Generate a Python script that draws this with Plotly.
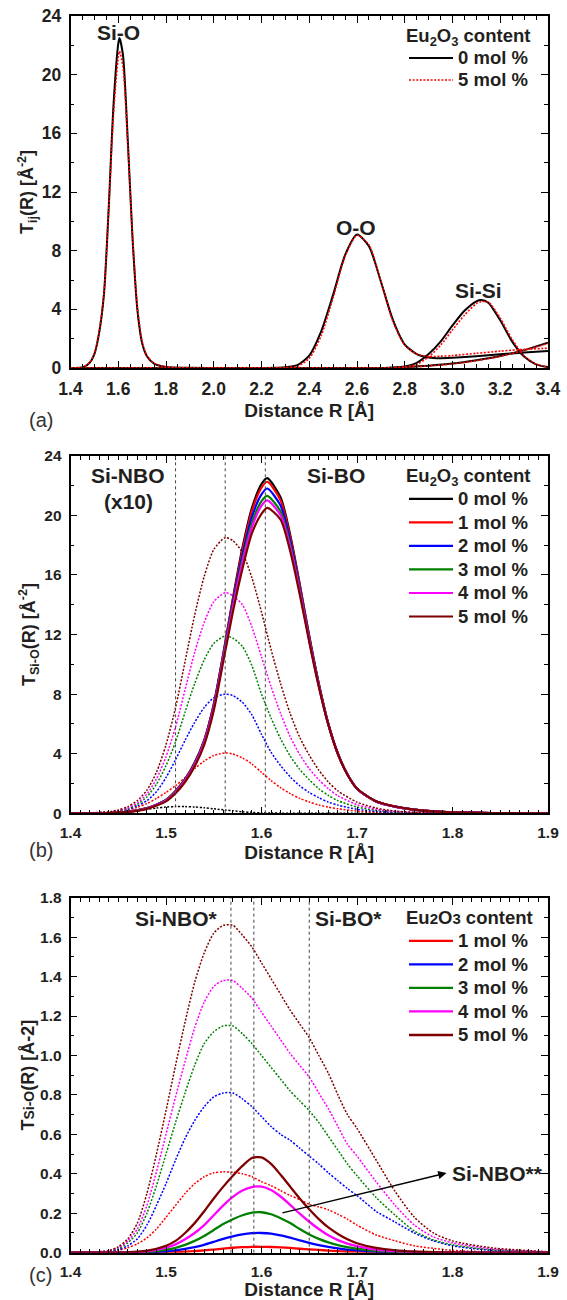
import plotly.graph_objects as go

# ---------------- DATA ----------------
# Panel (a): total pair functions, 0 and 5 mol % Eu2O3
RA_SIO = [1.40, 1.45, 1.48, 1.50, 1.52, 1.54, 1.56, 1.58, 1.60, 1.605, 1.62, 1.64, 1.66, 1.68, 1.70,
          1.72, 1.75, 1.80, 1.90, 2.00, 2.70, 2.80, 2.90, 3.00, 3.10, 3.20, 3.30, 3.40]
SIO_0 = [0, 0.03, 0.35, 0.95, 2.4, 5.0, 10.9, 17.9, 22.1, 22.5, 21.3, 15.5, 8.8, 4.0, 1.7,
         0.8, 0.3, 0.07, 0.01, 0, 0, 0.07, 0.16, 0.3, 0.53, 0.82, 1.22, 1.73]
SIO_5 = [0, 0.04, 0.38, 1.0, 2.5, 5.1, 10.8, 17.3, 21.2, 21.6, 20.5, 15.2, 8.9, 4.2, 1.8,
         0.85, 0.33, 0.08, 0.01, 0, 0, 0.06, 0.14, 0.28, 0.5, 0.8, 1.2, 1.68]
RA_OO = [1.40, 2.20, 2.30, 2.35, 2.40, 2.45, 2.50, 2.55, 2.60, 2.65, 2.70, 2.75, 2.80, 2.85, 2.90,
         2.95, 3.00, 3.10, 3.20, 3.30, 3.40]
OO_0 = [0, 0, 0.05, 0.2, 0.85, 2.5, 5.0, 7.7, 9.1, 8.3, 5.9, 3.3, 1.6, 0.95, 0.72,
        0.67, 0.7, 0.8, 0.93, 1.06, 1.16]
OO_5 = [0, 0, 0.03, 0.12, 0.65, 2.2, 4.8, 7.6, 9.05, 8.4, 5.9, 3.2, 1.55, 0.95, 0.78,
        0.8, 0.85, 1.0, 1.15, 1.27, 1.35]
RA_SISI = [1.40, 2.70, 2.75, 2.80, 2.85, 2.90, 2.95, 3.00, 3.05, 3.10, 3.12, 3.15, 3.20, 3.25, 3.30, 3.35, 3.40]
SISI_0 = [0, 0, 0.02, 0.1, 0.35, 0.95, 1.8, 2.9, 3.9, 4.55, 4.64, 4.45, 3.25, 1.8, 0.78, 0.25, 0.06]
SISI_5 = [0, 0, 0.01, 0.07, 0.25, 0.75, 1.55, 2.6, 3.6, 4.4, 4.52, 4.5, 3.4, 1.95, 0.82, 0.26, 0.06]

# Panel (b): Si-BO (solid) and Si-NBO x10 (dotted)
RB_BO = [1.40, 1.44, 1.46, 1.48, 1.49, 1.50, 1.51, 1.52, 1.53, 1.54, 1.55, 1.56, 1.57, 1.58, 1.59, 1.60,
         1.606, 1.62, 1.63, 1.64, 1.65, 1.66, 1.67, 1.68, 1.69, 1.70, 1.72, 1.74, 1.76, 1.78, 1.80, 1.84, 1.90]
BO_0 = [0, 0.02, 0.1, 0.35, 0.58, 0.9, 1.5, 2.3, 3.4, 4.9, 7.3, 10.7, 14.4, 17.8, 20.5, 22.1,
        22.5, 21.2, 18.7, 15.4, 11.9, 8.7, 6.0, 4.0, 2.6, 1.65, 0.8, 0.45, 0.25, 0.13, 0.07, 0.02, 0]
BO_1 = [0, 0.02, 0.1, 0.35, 0.58, 0.9, 1.5, 2.3, 3.4, 4.9, 7.3, 10.7, 14.3, 17.6, 20.3, 21.85,
        22.25, 21.0, 18.55, 15.3, 11.85, 8.7, 6.0, 4.0, 2.6, 1.65, 0.8, 0.45, 0.25, 0.13, 0.07, 0.02, 0]
BO_2 = [0, 0.02, 0.1, 0.34, 0.57, 0.88, 1.47, 2.26, 3.35, 4.85, 7.2, 10.6, 14.1, 17.3, 19.9, 21.4,
        21.8, 20.65, 18.3, 15.15, 11.75, 8.65, 5.98, 4.0, 2.6, 1.65, 0.8, 0.45, 0.25, 0.13, 0.07, 0.02, 0]
BO_3 = [0, 0.02, 0.1, 0.33, 0.56, 0.86, 1.44, 2.22, 3.3, 4.8, 7.1, 10.5, 13.9, 17.0, 19.5, 20.95,
        21.3, 20.25, 18.0, 15.0, 11.65, 8.6, 5.96, 3.98, 2.6, 1.65, 0.8, 0.45, 0.25, 0.13, 0.07, 0.02, 0]
BO_4 = [0, 0.02, 0.1, 0.32, 0.55, 0.85, 1.42, 2.2, 3.25, 4.75, 7.05, 10.4, 13.8, 16.8, 19.2, 20.65,
        21.0, 20.0, 17.85, 14.9, 11.6, 8.55, 5.95, 3.98, 2.6, 1.65, 0.8, 0.45, 0.25, 0.13, 0.07, 0.02, 0]
BO_5 = [0, 0.02, 0.09, 0.3, 0.52, 0.8, 1.35, 2.1, 3.15, 4.6, 6.9, 10.2, 13.5, 16.4, 18.8, 20.1,
        20.5, 19.7, 17.6, 14.7, 11.5, 8.5, 5.95, 3.98, 2.6, 1.66, 0.81, 0.46, 0.25, 0.13, 0.07, 0.02, 0]

RB_NBO = [1.40, 1.44, 1.45, 1.46, 1.47, 1.48, 1.49, 1.50, 1.51, 1.52, 1.53, 1.54, 1.55, 1.562, 1.57, 1.58,
          1.59, 1.60, 1.61, 1.62, 1.63, 1.64, 1.65, 1.66, 1.67, 1.68, 1.70, 1.72, 1.74, 1.76, 1.80, 1.90]
NBO_0 = [0, 0.02, 0.05, 0.1, 0.17, 0.26, 0.35, 0.42, 0.45, 0.45, 0.42, 0.37, 0.3, 0.22, 0.17, 0.1,
         0.06, 0.03, 0.015, 0.01, 0, 0, 0, 0, 0, 0, 0, 0, 0, 0, 0, 0]
NBO_1 = [0, 0.06, 0.12, 0.22, 0.4, 0.65, 1.0, 1.4, 1.85, 2.4, 3.0, 3.5, 3.88, 4.05, 3.98, 3.72,
         3.3, 2.75, 2.2, 1.72, 1.32, 1.0, 0.76, 0.56, 0.41, 0.3, 0.15, 0.07, 0.03, 0.015, 0.005, 0]
NBO_2 = [0, 0.06, 0.13, 0.26, 0.5, 0.85, 1.45, 2.4, 3.6, 4.9, 6.1, 7.1, 7.75, 8.0, 7.9, 7.45,
         6.6, 5.3, 4.1, 3.2, 2.45, 1.85, 1.4, 1.05, 0.75, 0.55, 0.27, 0.13, 0.06, 0.03, 0.01, 0]
NBO_3 = [0, 0.07, 0.15, 0.3, 0.6, 1.1, 1.95, 3.2, 4.8, 6.8, 8.7, 10.3, 11.4, 11.9, 11.75, 11.2,
         9.9, 8.0, 6.4, 5.0, 3.85, 2.95, 2.25, 1.65, 1.2, 0.85, 0.42, 0.2, 0.09, 0.04, 0.012, 0]
NBO_4 = [0, 0.08, 0.18, 0.36, 0.7, 1.3, 2.3, 3.8, 5.8, 8.3, 10.8, 12.8, 14.2, 14.8, 14.6, 14.0,
         12.5, 10.5, 8.5, 6.7, 5.15, 3.95, 3.0, 2.25, 1.65, 1.18, 0.58, 0.27, 0.12, 0.05, 0.015, 0]
NBO_5 = [0, 0.1, 0.22, 0.45, 0.85, 1.55, 2.75, 4.6, 7.1, 10.2, 13.3, 15.9, 17.7, 18.5, 18.3, 17.5,
         15.8, 13.5, 11.0, 8.7, 6.7, 5.1, 3.9, 2.9, 2.1, 1.5, 0.75, 0.35, 0.15, 0.07, 0.02, 0]

# Panel (c): Si-NBO* (dotted) and Si-NBO** (solid)
RC = [1.40, 1.44, 1.45, 1.46, 1.47, 1.48, 1.49, 1.50, 1.51, 1.52, 1.53, 1.54, 1.55, 1.56, 1.57, 1.58,
      1.59, 1.60, 1.61, 1.62, 1.63, 1.64, 1.65, 1.66, 1.67, 1.68, 1.69, 1.70, 1.72, 1.74, 1.76, 1.78,
      1.80, 1.84, 1.90]
C1_D = [0, 0.005, 0.012, 0.025, 0.045, 0.075, 0.12, 0.18, 0.24, 0.3, 0.35, 0.385, 0.405, 0.41, 0.408, 0.4,
        0.385, 0.36, 0.34, 0.315, 0.29, 0.27, 0.245, 0.232, 0.218, 0.195, 0.17, 0.14, 0.09, 0.06, 0.035, 0.022,
        0.012, 0.004, 0]
C2_D = [0, 0.006, 0.015, 0.035, 0.07, 0.14, 0.24, 0.35, 0.47, 0.58, 0.67, 0.74, 0.79, 0.81, 0.81, 0.78,
        0.74, 0.69, 0.64, 0.6, 0.57, 0.53, 0.49, 0.45, 0.405, 0.365, 0.325, 0.29, 0.21, 0.155, 0.1, 0.06,
        0.035, 0.012, 0.002]
C3_D = [0, 0.008, 0.02, 0.05, 0.1, 0.2, 0.34, 0.5, 0.66, 0.81, 0.95, 1.06, 1.12, 1.15, 1.15, 1.11,
        1.06, 1.0, 0.94, 0.88, 0.82, 0.77, 0.72, 0.66, 0.59, 0.52, 0.45, 0.39, 0.28, 0.19, 0.11, 0.065,
        0.04, 0.015, 0.003]
C4_D = [0, 0.01, 0.025, 0.06, 0.12, 0.24, 0.41, 0.6, 0.79, 0.97, 1.14, 1.27, 1.35, 1.38, 1.38, 1.34,
        1.29, 1.22, 1.15, 1.08, 1.01, 0.95, 0.89, 0.81, 0.73, 0.64, 0.55, 0.49, 0.36, 0.24, 0.14, 0.08,
        0.05, 0.02, 0.004]
C5_D = [0, 0.01, 0.03, 0.07, 0.15, 0.3, 0.5, 0.72, 0.95, 1.17, 1.37, 1.52, 1.62, 1.66, 1.66, 1.61,
        1.55, 1.47, 1.39, 1.31, 1.23, 1.16, 1.09, 1.0, 0.91, 0.8, 0.7, 0.63, 0.47, 0.31, 0.18, 0.1,
        0.06, 0.025, 0.005]
C1_S = [0, 0, 0, 0, 0, 0.001, 0.001, 0.002, 0.003, 0.005, 0.008, 0.012, 0.016, 0.021, 0.025, 0.028,
        0.03, 0.03, 0.029, 0.027, 0.024, 0.02, 0.017, 0.014, 0.011, 0.008, 0.006, 0.005, 0.003, 0.001, 0, 0,
        0, 0, 0]
C2_S = [0, 0, 0, 0, 0.001, 0.002, 0.004, 0.007, 0.012, 0.019, 0.028, 0.04, 0.055, 0.07, 0.083, 0.093,
        0.099, 0.1, 0.097, 0.088, 0.076, 0.063, 0.05, 0.039, 0.03, 0.022, 0.016, 0.012, 0.006, 0.003, 0.001, 0,
        0, 0, 0]
C3_S = [0, 0, 0, 0.001, 0.002, 0.004, 0.008, 0.015, 0.025, 0.04, 0.06, 0.085, 0.115, 0.145, 0.17, 0.19,
        0.203, 0.205, 0.195, 0.175, 0.15, 0.12, 0.092, 0.07, 0.052, 0.038, 0.028, 0.02, 0.01, 0.005, 0.002, 0.001,
        0, 0, 0]
C4_S = [0, 0, 0, 0.001, 0.003, 0.007, 0.014, 0.025, 0.042, 0.068, 0.1, 0.14, 0.19, 0.24, 0.283, 0.315,
        0.333, 0.335, 0.318, 0.285, 0.243, 0.198, 0.157, 0.12, 0.088, 0.064, 0.046, 0.033, 0.016, 0.008, 0.004, 0.002,
        0.001, 0, 0]
C5_S = [0, 0, 0, 0.002, 0.005, 0.01, 0.02, 0.035, 0.06, 0.1, 0.15, 0.21, 0.275, 0.335, 0.39, 0.44,
        0.48, 0.483, 0.45, 0.395, 0.335, 0.275, 0.22, 0.17, 0.128, 0.095, 0.068, 0.048, 0.024, 0.012, 0.006, 0.003,
        0.001, 0, 0]

LABELS = ["0 mol %", "1 mol %", "2 mol %", "3 mol %", "4 mol %", "5 mol %"]
COLORS = ["#000000", "#ff0000", "#0000ff", "#008000", "#ff00ff", "#800000"]
VLINES_B = [1.51, 1.562, 1.604]
VLINES_C = [1.568, 1.592, 1.65]

# ---------------- FIGURE ----------------
FONT = "Liberation Sans, Arial, Helvetica, sans-serif"
TXT = "#231f20"
DOT = "2px,1.6px"
W, H = 567, 1300

fig = go.Figure()


def big(s):
    return "<span style='font-size:18.5px'>" + s + "</span>"


def line(x, y, color, dash, width, xa, ya, name=None, legend=None, show=False):
    fig.add_trace(go.Scatter(
        x=x, y=y, mode="lines", name=big(name) if name else None, showlegend=show, legend=legend,
        line=dict(color=color, width=width, dash=dash, shape="spline", smoothing=0.7),
        xaxis=xa, yaxis=ya, hoverinfo="skip"))


# panel (a)
PAIRS_A = [(RA_SIO, SIO_0, SIO_5), (RA_OO, OO_0, OO_5), (RA_SISI, SISI_0, SISI_5)]
for i, (xs, y0, y5) in enumerate(PAIRS_A):
    line(xs, y0, COLORS[0], "solid", 2.0, "x", "y", LABELS[0], "legend", i == 0)
for i, (xs, y0, y5) in enumerate(PAIRS_A):
    line(xs, y5, COLORS[1], DOT, 1.6, "x", "y", LABELS[5], "legend", i == 0)

# panel (b)
for ys, c in zip([NBO_0, NBO_1, NBO_2, NBO_3, NBO_4, NBO_5], COLORS):
    line(RB_NBO, ys, c, DOT, 1.5, "x2", "y2")
for ys, c, lab in zip([BO_0, BO_1, BO_2, BO_3, BO_4, BO_5], COLORS, LABELS):
    line(RB_BO, ys, c, "solid", 2.2, "x2", "y2", lab, "legend2", True)

# panel (c)
for ys, c in zip([C1_D, C2_D, C3_D, C4_D, C5_D], COLORS[1:]):
    line(RC, ys, c, DOT, 1.5, "x3", "y3")
for ys, c, lab in zip([C1_S, C2_S, C3_S, C4_S, C5_S], COLORS[1:], LABELS[1:]):
    line(RC, ys, c, "solid", 2.3, "x3", "y3", lab, "legend3", True)

XD = [70.5 / W, 548 / W]
YD_A = [1 - 368 / H, 1 - 16 / H]
YD_B = [1 - 813.3 / H, 1 - 455.7 / H]
YD_C = [1 - 1252.7 / H, 1 - 897.7 / H]


def xax(rng, dtick, minor, dom, anchor, tsize, std):
    return dict(range=rng, domain=dom, anchor=anchor, dtick=dtick, tick0=rng[0], tickformat=".1f",
                showline=True, linecolor="black", linewidth=1.6, mirror="ticks",
                ticks="inside", ticklen=7, tickwidth=1.4, tickcolor="black",
                minor=dict(ticks="inside", ticklen=4, tickwidth=1.1, tickcolor="black", dtick=minor, tick0=rng[0]),
                showgrid=False, zeroline=False, ticklabelstandoff=4, automargin=False,
                tickfont=dict(family=FONT, size=tsize, color=TXT, weight="bold"),
                title=dict(text="Distance R [Å]", standoff=std,
                           font=dict(family=FONT, size=19, color=TXT, weight="bold")))


def yax(rng, dtick, minor, dom, anchor, fmt, tsize, title, std, tfs=18):
    return dict(range=rng, domain=dom, anchor=anchor, dtick=dtick, tick0=0, tickformat=fmt,
                showline=True, linecolor="black", linewidth=1.6, mirror="ticks",
                ticks="inside", ticklen=7, tickwidth=1.4, tickcolor="black",
                minor=dict(ticks="inside", ticklen=4, tickwidth=1.1, tickcolor="black", dtick=minor, tick0=0),
                showgrid=False, zeroline=False, ticklabelstandoff=4, automargin=False,
                tickfont=dict(family=FONT, size=tsize, color=TXT, weight="bold"),
                title=dict(text=title, standoff=std,
                           font=dict(family=FONT, size=tfs, color=TXT, weight="bold")))


TFONT = dict(family=FONT, size=18.5, color=TXT, weight="bold")


def legend_box(x, y, fsize, title):
    return dict(bgcolor="rgba(0,0,0,0)", borderwidth=0, itemwidth=44, xanchor="left", yanchor="top",
                tracegroupgap=0, traceorder="normal", x=x, y=y,
                font=dict(family=FONT, size=fsize, color=TXT, weight="bold"),
                title=dict(text=title, side="top", font=TFONT))


TITLE_EU = "Eu<sub>2</sub>O<sub>3</sub> content"

fig.update_layout(
    width=W, height=H, margin=dict(l=0, r=0, t=0, b=0, autoexpand=False),
    paper_bgcolor="white", plot_bgcolor="white",
    xaxis=xax([1.4, 3.4], 0.2, 0.05, XD, "y", 17.5, 6),
    yaxis=yax([0, 24], 4, 2, YD_A, "x", "d", 17.5, "T<sub>ij</sub>(R) [Å<sup>-2</sup>]", 3),
    xaxis2=xax([1.4, 1.9], 0.1, 0.01, XD, "y2", 15.5, 6),
    yaxis2=yax([0, 24], 4, 2, YD_B, "x2", "d", 15.5, "T<sub>Si-O</sub>(R) [Å<sup>-2</sup>]", 4),
    xaxis3=xax([1.4, 1.9], 0.1, 0.01, XD, "y3", 15.5, 5),
    yaxis3=yax([0, 1.8], 0.2, 0.1, YD_C, "x3", ".1f", 15.5,
               "T<span style='font-size:14px'>Si-O</span>(R) [Å-2]", 1),
    legend=legend_box(404 / W, 1 - 18 / H, 14.6, TITLE_EU),
    legend2=legend_box(404 / W, 1 - 458 / H, 15.8, TITLE_EU),
    legend3=legend_box(404 / W, 1 - 900 / H, 15.8,
                       "Eu<span style='font-size:15px'>2</span>O<span style='font-size:15px'>3</span> content"),
)

# reference lines
for v in VLINES_B:
    fig.add_shape(type="line", xref="x2", yref="y2 domain", x0=v, x1=v, y0=0, y1=1,
                  line=dict(color="#444444", width=1, dash="dot"))
for v in VLINES_C:
    fig.add_shape(type="line", xref="x3", yref="y3 domain", x0=v, x1=v, y0=0, y1=1,
                  line=dict(color="#444444", width=1, dash="dot"))

AF = dict(family=FONT, size=21, color=TXT, weight="bold")


def note(text, x, y, xr, yr, **kw):
    fig.add_annotation(text=text, x=x, y=y, xref=xr, yref=yr, showarrow=False, font=AF, **kw)


note("Si-O", 1.603, 22.9, "x", "y")
note("O-O", 2.597, 9.6, "x", "y")
note("Si-Si", 3.11, 5.3, "x", "y")
note("Si-NBO", 1.4606, 22.7, "x2", "y2")
note("(x10)", 1.4606, 20.9, "x2", "y2")
note("Si-BO", 1.678, 22.7, "x2", "y2")
note("Si-NBO*", 1.5115, 1.697, "x3", "y3")
note("Si-BO*", 1.6916, 1.697, "x3", "y3")
note("Si-NBO**", 1.7974, 0.404, "x3", "y3", xanchor="left")
fig.add_annotation(text="", x=1.7938, y=0.404, ax=1.6204, ay=0.2, xref="x3", yref="y3",
                   axref="x3", ayref="y3", showarrow=True, arrowhead=2, arrowsize=1.2,
                   arrowwidth=1.4, arrowcolor="black")

PF = dict(family=FONT, size=20, color="#333333")
for lab, py in [("(a)", 407), ("(b)", 850), ("(c)", 1288)]:
    fig.add_annotation(text=lab, x=27 / W, y=1 - py / H, xref="paper", yref="paper",
                       showarrow=False, font=PF)

fig.write_html("out.html", config={"displayModeBar": False},
               post_script="document.body.style.margin='0px';document.body.style.padding='0px';")
